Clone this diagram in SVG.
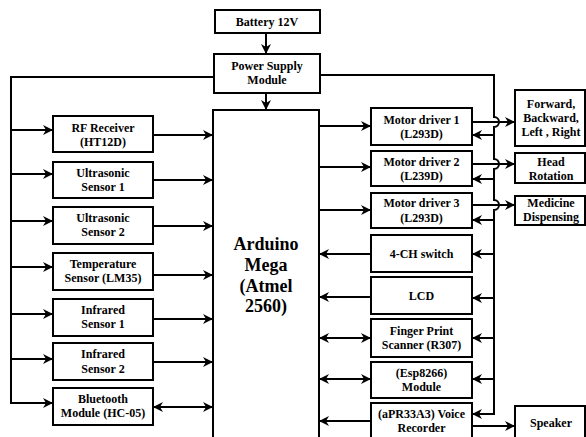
<svg xmlns="http://www.w3.org/2000/svg" width="586" height="437" viewBox="0 0 586 437">
<style>
.box{fill:#fff;stroke:#000;stroke-width:2}
.t{font-family:"Liberation Serif","Times New Roman",serif;font-weight:bold;font-size:12px;text-anchor:middle;fill:#000}
.big{font-size:18px}
.c{fill:none;stroke:#000;stroke-width:2}
</style>
<defs>
<marker id="a" viewBox="0 0 10 10" refX="9" refY="5" markerWidth="5" markerHeight="5" orient="auto-start-reverse">
<path d="M0,0 L10,5 L0,10 L3,5 z" fill="#000"/>
</marker>
</defs>
<rect width="586" height="437" fill="#fff"/>
<g id="connectors">
<path class="c" d="M266,33 V53" marker-end="url(#a)"/>
<path class="c" d="M266,93 V109" marker-end="url(#a)"/>
<path class="c" d="M214,77 H11 V403 H52" marker-end="url(#a)"/>
<path class="c" d="M11,130 H52" marker-end="url(#a)"/>
<path class="c" d="M11,174 H52" marker-end="url(#a)"/>
<path class="c" d="M11,221 H52" marker-end="url(#a)"/>
<path class="c" d="M11,267 H52" marker-end="url(#a)"/>
<path class="c" d="M11,314 H52" marker-end="url(#a)"/>
<path class="c" d="M11,359 H52" marker-end="url(#a)"/>
<path class="c" d="M154,135 H212" marker-end="url(#a)"/>
<path class="c" d="M154,180 H212" marker-end="url(#a)"/>
<path class="c" d="M154,226 H212" marker-end="url(#a)"/>
<path class="c" d="M154,275 H212" marker-end="url(#a)"/>
<path class="c" d="M154,319 H212" marker-end="url(#a)"/>
<path class="c" d="M154,362 H212" marker-end="url(#a)"/>
<path class="c" d="M154,407 H212" marker-start="url(#a)" marker-end="url(#a)"/>
<path class="c" d="M320,126 H370" marker-end="url(#a)"/>
<path class="c" d="M320,167 H370" marker-end="url(#a)"/>
<path class="c" d="M320,210 H370" marker-end="url(#a)"/>
<path class="c" d="M371,254 H320" marker-end="url(#a)"/>
<path class="c" d="M371,297 H320" marker-end="url(#a)"/>
<path class="c" d="M320,338 H370" marker-start="url(#a)" marker-end="url(#a)"/>
<path class="c" d="M320,379 H370" marker-start="url(#a)" marker-end="url(#a)"/>
<path class="c" d="M371,421 H320" marker-end="url(#a)"/>
<path class="c" d="M320,75 H494 V117 a5,5 0 0 1 0,10 V159 a5,5 0 0 1 0,10 V200 a5,5 0 0 1 0,10 V414 H473" marker-end="url(#a)"/>
<path class="c" d="M494,135 H473" marker-end="url(#a)"/>
<path class="c" d="M494,179 H473" marker-end="url(#a)"/>
<path class="c" d="M494,220 H473" marker-end="url(#a)"/>
<path class="c" d="M494,254 H473" marker-end="url(#a)"/>
<path class="c" d="M494,298 H473" marker-end="url(#a)"/>
<path class="c" d="M494,338 H473" marker-end="url(#a)"/>
<path class="c" d="M494,379 H473" marker-end="url(#a)"/>
<path class="c" d="M472,122 H514" marker-end="url(#a)"/>
<path class="c" d="M472,164 H514" marker-end="url(#a)"/>
<path class="c" d="M472,205 H514" marker-end="url(#a)"/>
<path class="c" d="M472,426 H514" marker-end="url(#a)"/>
</g>
<g id="battery"><rect class="box" x="215" y="10" width="105" height="23"/><text class="t" x="267" y="26">Battery 12V</text></g>
<g id="power"><rect class="box" x="214" y="54" width="106" height="39"/><text class="t" x="267" y="70">Power Supply</text><text class="t" x="267" y="84">Module</text></g>
<g id="arduino"><rect class="box" x="213" y="110" width="106" height="340"/>
<text class="t big" x="266" y="250">Arduino</text><text class="t big" x="266" y="271">Mega</text><text class="t big" x="266" y="292">(Atmel</text><text class="t big" x="266" y="312">2560)</text></g>
<g id="rf"><rect class="box" x="53" y="116" width="100" height="36"/><text class="t" x="103" y="132">RF Receiver</text><text class="t" x="103" y="146">(HT12D)</text></g>
<g id="us1"><rect class="box" x="53" y="162" width="100" height="36"/><text class="t" x="103" y="177">Ultrasonic</text><text class="t" x="103" y="191">Sensor 1</text></g>
<g id="us2"><rect class="box" x="53" y="207" width="100" height="37"/><text class="t" x="103" y="222">Ultrasonic</text><text class="t" x="103" y="236">Sensor 2</text></g>
<g id="temp"><rect class="box" x="53" y="253" width="100" height="37"/><text class="t" x="103" y="268">Temperature</text><text class="t" x="103" y="282">Sensor (LM35)</text></g>
<g id="ir1"><rect class="box" x="53" y="299" width="100" height="37"/><text class="t" x="103" y="314">Infrared</text><text class="t" x="103" y="328">Sensor 1</text></g>
<g id="ir2"><rect class="box" x="53" y="343" width="100" height="37"/><text class="t" x="103" y="358">Infrared</text><text class="t" x="103" y="373">Sensor 2</text></g>
<g id="bt"><rect class="box" x="53" y="388" width="100" height="37"/><text class="t" x="103" y="403">Bluetooth</text><text class="t" x="103" y="417">Module (HC-05)</text></g>
<g id="md1"><rect class="box" x="371" y="108" width="101" height="37"/><text class="t" x="421.5" y="124">Motor driver 1</text><text class="t" x="421.5" y="138">(L293D)</text></g>
<g id="md2"><rect class="box" x="371" y="151" width="101" height="35"/><text class="t" x="421.5" y="166">Motor driver 2</text><text class="t" x="421.5" y="180">(L239D)</text></g>
<g id="md3"><rect class="box" x="371" y="193" width="101" height="35"/><text class="t" x="421.5" y="207">Motor driver 3</text><text class="t" x="421.5" y="222">(L293D)</text></g>
<g id="sw"><rect class="box" x="371" y="235" width="101" height="37"/><text class="t" x="421.5" y="258">4-CH switch</text></g>
<g id="lcd"><rect class="box" x="371" y="277" width="101" height="37"/><text class="t" x="421.5" y="300">LCD</text></g>
<g id="fp"><rect class="box" x="371" y="319" width="101" height="38"/><text class="t" x="421.5" y="335">Finger Print</text><text class="t" x="421.5" y="349">Scanner (R307)</text></g>
<g id="esp"><rect class="box" x="371" y="362" width="101" height="36"/><text class="t" x="421.5" y="377">(Esp8266)</text><text class="t" x="421.5" y="391">Module</text></g>
<g id="voice"><rect class="box" x="371" y="403" width="101" height="45"/><text class="t" x="421.5" y="418">(aPR33A3) Voice</text><text class="t" x="421.5" y="432">Recorder</text></g>
<g id="fwd"><rect class="box" x="515" y="90" width="70" height="56"/><text class="t" x="551" y="108">Forward,</text><text class="t" x="551" y="122">Backward,</text><text class="t" x="551" y="136">Left , Right</text></g>
<g id="head"><rect class="box" x="515" y="153" width="70" height="30"/><text class="t" x="551" y="166">Head</text><text class="t" x="551" y="180">Rotation</text></g>
<g id="med"><rect class="box" x="515" y="196" width="70" height="29"/><text class="t" x="551" y="207">Medicine</text><text class="t" x="551" y="221">Dispensing</text></g>
<g id="spk"><rect class="box" x="515" y="406" width="70" height="45"/><text class="t" x="551" y="427">Speaker</text></g>
</svg>
